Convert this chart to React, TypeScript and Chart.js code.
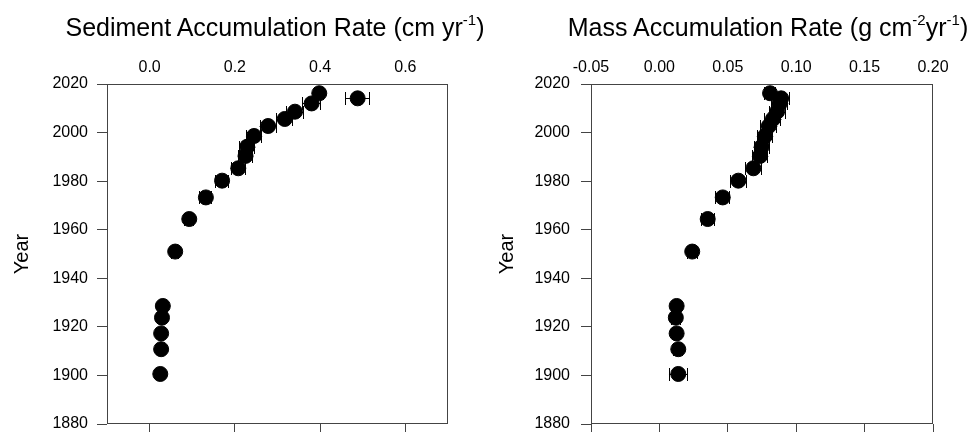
import React, { useEffect, useRef } from "react";
import { Chart, registerables } from "chart.js";

Chart.register(...registerables);

// ---- Data ----
const years = [1900.6, 1910.8, 1917.3, 1923.8, 1928.6, 1951.0, 1964.4, 1973.3, 1980.2, 1985.3, 1990.4, 1994.2, 1998.6, 2002.7, 2005.6, 2008.6, 2012.0, 2014.1, 2016.2];
const sarValues = [0.025, 0.027, 0.027, 0.029, 0.031, 0.060, 0.093, 0.132, 0.170, 0.208, 0.225, 0.229, 0.245, 0.278, 0.317, 0.341, 0.380, 0.488, 0.398];
const sarErrors = [0.006, 0.006, 0.006, 0.006, 0.007, 0.010, 0.012, 0.015, 0.017, 0.018, 0.018, 0.019, 0.019, 0.020, 0.020, 0.021, 0.022, 0.029, 0.012];
const marValues = [0.0138, 0.0138, 0.0126, 0.0120, 0.0126, 0.0240, 0.0353, 0.0463, 0.0577, 0.0687, 0.0736, 0.0748, 0.0772, 0.0800, 0.0830, 0.0860, 0.0880, 0.0890, 0.0809];
const marErrors = [0.0068, 0.0035, 0.0035, 0.0035, 0.0035, 0.0040, 0.0050, 0.0055, 0.0060, 0.0060, 0.0060, 0.0060, 0.0060, 0.0062, 0.0062, 0.0062, 0.0062, 0.0062, 0.0045];

const sarRange = [-0.1, 0.7];
const marRange = [-0.05, 0.2];
const yearRange = [1880, 2020];
const sarTopTicks = [0, 0.2, 0.4, 0.6];
const sarBottomTicks = [0, 0.2, 0.4, 0.6];
const marTopTicks = [-0.05, 0, 0.05, 0.1, 0.15, 0.2];
const marBottomTicks = [-0.05, 0, 0.05, 0.1, 0.15, 0.2];
const yearTicks = [1880, 1900, 1920, 1940, 1960, 1980, 2000, 2020];

const FONT = '"Liberation Sans", Arial, Helvetica, sans-serif';
const AXIS_COLOR = "#444";

const errorBarPlugin = {
  id: "errorBars",
  beforeDatasetsDraw(chart: any) {
    const ctx = chart.ctx;
    const xs = chart.scales.x;
    const ys = chart.scales.y;
    ctx.save();
    ctx.strokeStyle = "#000";
    ctx.lineWidth = 1;
    chart.data.datasets.forEach((ds: any) => {
      const errs: number[] = ds.xErr || [];
      ds.data.forEach((p: any, i: number) => {
        const e = errs[i];
        if (!e) return;
        const x1 = xs.getPixelForValue(p.x - e);
        const x2 = xs.getPixelForValue(p.x + e);
        const y = Math.round(ys.getPixelForValue(p.y)) + 0.5;
        const cap = 6.5;
        ctx.beginPath();
        ctx.moveTo(x1, y);
        ctx.lineTo(x2, y);
        const a = Math.round(x1) + 0.5;
        const b = Math.round(x2) - 0.5;
        ctx.moveTo(a, y - cap);
        ctx.lineTo(a, y + cap);
        ctx.moveTo(b, y - cap);
        ctx.lineTo(b, y + cap);
        ctx.stroke();
      });
    });
    ctx.restore();
  },
};

const framePlugin = {
  id: "frame",
  afterDraw(chart: any) {
    const { left, top, right, bottom } = chart.chartArea;
    const ctx = chart.ctx;
    ctx.save();
    ctx.strokeStyle = AXIS_COLOR;
    ctx.lineWidth = 1;
    ctx.strokeRect(Math.round(left) + 0.5, Math.round(top) + 0.5, Math.round(right - left) - 1, Math.round(bottom - top) - 1);
    ctx.restore();
  },
};

type PanelProps = {
  values: number[];
  errors: number[];
  range: number[];
  topTicks: number[];
  bottomTicks: number[];
  decimals: number;
  yAxisWidth: number;
  padRight: number;
  yLabelPad: number;
  yTitlePad: number;
};

function Panel(props: PanelProps) {
  const ref = useRef<HTMLCanvasElement | null>(null);
  useEffect(() => {
    if (!ref.current) return;
    const { values, errors, range, topTicks, bottomTicks, decimals, yAxisWidth, padRight, yLabelPad, yTitlePad } = props;
    const chart = new Chart(ref.current, {
      type: "scatter",
      data: {
        datasets: [
          {
            data: years.map((y, i) => ({ x: values[i], y })),
            xErr: errors,
            backgroundColor: "#000",
            borderColor: "#000",
            borderWidth: 1,
            pointRadius: 7.5,
            pointHoverRadius: 7.5,
            xAxisID: "x",
            yAxisID: "y",
          } as any,
        ],
      },
      options: {
        animation: false,
        responsive: false,
        events: [],
        layout: { padding: { left: 0, top: 0, right: padRight, bottom: 0 }, autoPadding: false } as any,
        plugins: { legend: { display: false }, tooltip: { enabled: false }, title: { display: false } },
        scales: {
          x: {
            type: "linear",
            position: "top",
            min: range[0],
            max: range[1],
            afterBuildTicks: (s: any) => {
              s.ticks = topTicks.map((v) => ({ value: v }));
            },
            afterFit: (s: any) => {
              s.height = 84;
              s.paddingLeft = 0;
              s.paddingRight = 0;
            },
            grid: { display: false },
            border: { display: false },
            ticks: {
              autoSkip: false,
              maxRotation: 0,
              padding: -1,
              color: "#000",
              font: { family: FONT, size: 16 },
              callback: (v: any) => Number(v).toFixed(decimals),
            },
          },
          xb: {
            type: "linear",
            position: "bottom",
            min: range[0],
            max: range[1],
            afterBuildTicks: (s: any) => {
              s.ticks = bottomTicks.map((v) => ({ value: v }));
            },
            afterFit: (s: any) => {
              s.height = 10;
              s.paddingLeft = 0;
              s.paddingRight = 0;
            },
            grid: { display: true, drawOnChartArea: false, drawTicks: true, tickLength: 8, color: AXIS_COLOR, lineWidth: 1 },
            border: { display: false },
            ticks: { display: false },
          },
          y: {
            type: "linear",
            position: "left",
            min: yearRange[0],
            max: yearRange[1],
            afterBuildTicks: (s: any) => {
              s.ticks = yearTicks.map((v) => ({ value: v }));
            },
            afterFit: (s: any) => {
              s.width = yAxisWidth;
              s.paddingTop = 0;
              s.paddingBottom = 0;
            },
            grid: { display: true, drawOnChartArea: false, drawTicks: true, tickLength: 10, color: AXIS_COLOR, lineWidth: 1 },
            border: { display: false },
            ticks: {
              autoSkip: false,
              padding: yLabelPad,
              color: "#000",
              font: { family: FONT, size: 16 },
              callback: (v: any) => String(v),
            },
            title: {
              display: true,
              text: "Year",
              color: "#000",
              font: { family: FONT, size: 20 },
              padding: { top: yTitlePad, bottom: 0 },
            },
          },
        } as any,
      },
      plugins: [errorBarPlugin, framePlugin],
    });
    return () => chart.destroy();
  }, []);
  return <canvas ref={ref} width={487} height={434} style={{ display: "block", width: 487, height: 434 }} />;
}

const titleStyle: React.CSSProperties = {
  position: "absolute",
  top: 15,
  fontFamily: FONT,
  fontSize: 25,
  lineHeight: "25px",
  color: "#000",
  textAlign: "center",
  whiteSpace: "nowrap",
};
const supStyle: React.CSSProperties = {
  fontSize: 15,
  position: "relative",
  top: -11,
  verticalAlign: "baseline",
  lineHeight: 0,
};

export default function App() {
  return (
    <div style={{ position: "fixed", left: 0, top: 0, width: 974, height: 434, background: "#fff", overflow: "hidden" }}>
      <div style={{ position: "absolute", left: 0, top: 0 }}>
        <Panel values={sarValues} errors={sarErrors} range={sarRange} topTicks={sarTopTicks} bottomTicks={sarBottomTicks} decimals={1} yAxisWidth={107} padRight={39} yLabelPad={9} yTitlePad={10} />
      </div>
      <div style={{ position: "absolute", left: 487, top: 0 }}>
        <Panel values={marValues} errors={marErrors} range={marRange} topTicks={marTopTicks} bottomTicks={marBottomTicks} decimals={2} yAxisWidth={104} padRight={41} yLabelPad={11} yTitlePad={8} />
      </div>
      <div style={{ ...titleStyle, left: 55, width: 440 }}>
        Sediment Accumulation Rate (cm yr<span style={supStyle}>-1</span>)
      </div>
      <div style={{ ...titleStyle, left: 551, width: 434 }}>
        Mass Accumulation Rate (g cm<span style={supStyle}>-2</span>yr<span style={supStyle}>-1</span>)
      </div>
    </div>
  );
}
